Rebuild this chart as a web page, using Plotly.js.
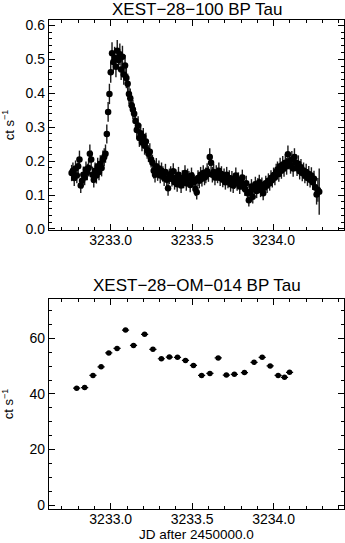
<!DOCTYPE html>
<html>
<head>
<meta charset="utf-8">
<script src="https://cdn.plot.ly/plotly-3.0.1.min.js"></script>
<style>
  html, body { margin: 0; padding: 0; background: #fff; }
  #chart { width: 345px; height: 543px; }
</style>
</head>
<body>
<div id="chart"></div>
<script>
// XMM light curves of BP Tau: X-ray (EPIC) on top, optical monitor below

// --- X-ray light curve (XEST-28-100) ---
const xrayTime = [
  3232.760, 3232.768, 3232.776, 3232.784, 3232.792, 3232.800, 3232.808, 3232.816, 3232.824, 3232.832,
  3232.840, 3232.848, 3232.856, 3232.864, 3232.872, 3232.880, 3232.888, 3232.896, 3232.904, 3232.912,
  3232.920, 3232.928, 3232.936, 3232.944, 3232.952, 3232.960, 3232.968, 3232.976, 3232.984, 3232.992,
  3233.000, 3233.008, 3233.016, 3233.024, 3233.032, 3233.040, 3233.048, 3233.056, 3233.064, 3233.072,
  3233.080, 3233.088, 3233.096, 3233.104, 3233.112, 3233.120, 3233.128, 3233.136, 3233.144, 3233.152,
  3233.160, 3233.168, 3233.176, 3233.184, 3233.192, 3233.200, 3233.208, 3233.216, 3233.224, 3233.232,
  3233.240, 3233.248, 3233.256, 3233.264, 3233.272, 3233.280, 3233.288, 3233.296, 3233.304, 3233.312,
  3233.320, 3233.328, 3233.336, 3233.344, 3233.352, 3233.360, 3233.368, 3233.376, 3233.384, 3233.392,
  3233.400, 3233.408, 3233.416, 3233.424, 3233.432, 3233.440, 3233.448, 3233.456, 3233.464, 3233.472,
  3233.480, 3233.488, 3233.496, 3233.504, 3233.512, 3233.520, 3233.528, 3233.536, 3233.544, 3233.552,
  3233.560, 3233.568, 3233.576, 3233.584, 3233.592, 3233.600, 3233.608, 3233.616, 3233.624, 3233.632,
  3233.640, 3233.648, 3233.656, 3233.664, 3233.672, 3233.680, 3233.688, 3233.696, 3233.704, 3233.712,
  3233.720, 3233.728, 3233.736, 3233.744, 3233.752, 3233.760, 3233.768, 3233.776, 3233.784, 3233.792,
  3233.800, 3233.808, 3233.816, 3233.824, 3233.832, 3233.840, 3233.848, 3233.856, 3233.864, 3233.872,
  3233.880, 3233.888, 3233.896, 3233.904, 3233.912, 3233.920, 3233.928, 3233.936, 3233.944, 3233.952,
  3233.960, 3233.968, 3233.976, 3233.984, 3233.992, 3234.000, 3234.008, 3234.016, 3234.024, 3234.032,
  3234.040, 3234.048, 3234.056, 3234.064, 3234.072, 3234.080, 3234.088, 3234.096, 3234.104, 3234.112,
  3234.120, 3234.128, 3234.136, 3234.144, 3234.152, 3234.160, 3234.168, 3234.176, 3234.184, 3234.192,
  3234.200, 3234.208, 3234.216, 3234.224, 3234.232, 3234.240, 3234.248, 3234.256, 3234.264, 3234.272,
  3234.280
];
const xrayRate = [
  0.165, 0.172, 0.150, 0.178, 0.158, 0.185, 0.205, 0.128, 0.142, 0.160,
  0.152, 0.175, 0.168, 0.180, 0.222, 0.205, 0.160, 0.145, 0.172, 0.158,
  0.185, 0.168, 0.192, 0.180, 0.205, 0.212, 0.222, 0.280, 0.345, 0.398,
  0.462, 0.518, 0.492, 0.505, 0.478, 0.525, 0.498, 0.515, 0.470, 0.508,
  0.455, 0.482, 0.445, 0.428, 0.398, 0.385, 0.365, 0.352, 0.340, 0.318,
  0.292, 0.305, 0.268, 0.282, 0.255, 0.272, 0.245, 0.258, 0.232, 0.222,
  0.228, 0.205, 0.195, 0.172, 0.160, 0.185, 0.165, 0.178, 0.158, 0.172,
  0.162, 0.150, 0.168, 0.145, 0.120, 0.155, 0.162, 0.148, 0.170, 0.138,
  0.152, 0.132, 0.160, 0.145, 0.128, 0.150, 0.142, 0.165, 0.135, 0.155,
  0.148, 0.130, 0.158, 0.145, 0.138, 0.118, 0.108, 0.150, 0.142, 0.160,
  0.148, 0.165, 0.152, 0.158, 0.170, 0.162, 0.212, 0.195, 0.160, 0.168,
  0.152, 0.165, 0.158, 0.172, 0.150, 0.162, 0.145, 0.155, 0.138, 0.160,
  0.142, 0.150, 0.132, 0.148, 0.128, 0.140, 0.158, 0.135, 0.145, 0.125,
  0.138, 0.152, 0.130, 0.118, 0.135, 0.105, 0.085, 0.110, 0.125, 0.095,
  0.118, 0.132, 0.112, 0.128, 0.138, 0.115, 0.130, 0.105, 0.122, 0.135,
  0.128, 0.142, 0.135, 0.150, 0.145, 0.158, 0.152, 0.168, 0.175, 0.162,
  0.185, 0.172, 0.190, 0.178, 0.195, 0.185, 0.220, 0.200, 0.188, 0.205,
  0.178, 0.212, 0.195, 0.180, 0.192, 0.170, 0.182, 0.165, 0.172, 0.158,
  0.168, 0.150, 0.162, 0.145, 0.158, 0.138, 0.148, 0.122, 0.102, 0.115,
  0.110
];
const xrayErr = [
  0.024, 0.024, 0.023, 0.024, 0.023, 0.025, 0.026, 0.022, 0.023, 0.024,
  0.023, 0.024, 0.024, 0.025, 0.027, 0.026, 0.024, 0.023, 0.024, 0.024,
  0.025, 0.024, 0.025, 0.025, 0.026, 0.026, 0.027, 0.028, 0.029, 0.030,
  0.031, 0.032, 0.031, 0.032, 0.031, 0.032, 0.031, 0.032, 0.031, 0.032,
  0.030, 0.031, 0.030, 0.030, 0.029, 0.029, 0.028, 0.028, 0.028, 0.027,
  0.027, 0.027, 0.026, 0.027, 0.026, 0.026, 0.026, 0.026, 0.025, 0.025,
  0.025, 0.024, 0.024, 0.023, 0.023, 0.024, 0.023, 0.024, 0.023, 0.024,
  0.023, 0.023, 0.024, 0.023, 0.022, 0.023, 0.023, 0.023, 0.024, 0.022,
  0.023, 0.022, 0.023, 0.023, 0.022, 0.023, 0.022, 0.023, 0.022, 0.023,
  0.023, 0.022, 0.023, 0.023, 0.022, 0.021, 0.021, 0.023, 0.022, 0.023,
  0.023, 0.023, 0.023, 0.023, 0.024, 0.023, 0.026, 0.025, 0.023, 0.024,
  0.023, 0.023, 0.023, 0.024, 0.023, 0.023, 0.022, 0.023, 0.022, 0.023,
  0.022, 0.023, 0.022, 0.023, 0.022, 0.022, 0.023, 0.022, 0.022, 0.022,
  0.022, 0.023, 0.022, 0.021, 0.022, 0.020, 0.019, 0.021, 0.022, 0.020,
  0.021, 0.022, 0.021, 0.022, 0.022, 0.021, 0.022, 0.020, 0.021, 0.022,
  0.022, 0.022, 0.022, 0.023, 0.023, 0.023, 0.023, 0.024, 0.024, 0.023,
  0.025, 0.024, 0.025, 0.024, 0.025, 0.025, 0.026, 0.025, 0.025, 0.025,
  0.024, 0.026, 0.025, 0.024, 0.025, 0.024, 0.024, 0.024, 0.024, 0.023,
  0.024, 0.023, 0.024, 0.023, 0.024, 0.023, 0.024, 0.026, 0.030, 0.035,
  0.068
];

// --- Optical monitor light curve (XEST-28-OM-014) ---
const omTime = [
  3232.791, 3232.840, 3232.891, 3232.941, 3232.988, 3233.039, 3233.091, 3233.140, 3233.208,
  3233.259, 3233.311, 3233.360, 3233.410, 3233.459, 3233.508, 3233.558, 3233.609, 3233.660,
  3233.710, 3233.759, 3233.821, 3233.880, 3233.930, 3233.979, 3234.028, 3234.067, 3234.098
];
const omRate = [
  42.1, 42.3, 46.7, 49.8, 54.8, 56.4, 63.0, 57.5, 61.5,
  56.1, 52.7, 53.3, 53.2, 52.1, 50.3, 46.7, 47.4, 53.0,
  46.8, 47.1, 47.7, 51.4, 53.2, 50.1, 46.7, 46.0, 47.8
];
const omRateErr = [
  0.5, 0.5, 0.5, 0.5, 0.5, 0.5, 0.6, 0.5, 0.6,
  0.5, 0.5, 0.5, 0.5, 0.5, 0.5, 0.5, 0.5, 0.5,
  0.5, 0.5, 0.5, 0.5, 0.5, 0.5, 0.5, 0.5, 0.5
];
const omHalfBin = 0.022;

const titleTop = 'XEST\u221228\u2212100 BP Tau';
const titleBottom = 'XEST\u221228\u2212OM\u2212014 BP Tau';
const rateLabel = 'ct s<sup>\u22121</sup>';
const timeLabel = 'JD after 2450000.0';

const FONT = 'Liberation Sans, Arial, Helvetica, sans-serif';

function frameAxis(extra) {
    return Object.assign({
        showline: true,
        linecolor: '#000',
        linewidth: 1.2,
        mirror: 'allticks',
        ticks: 'inside',
        ticklen: 6,
        tickwidth: 1,
        tickcolor: '#000',
        showgrid: false,
        zeroline: false,
        tickfont: { family: FONT, size: 14, color: '#000' }
    }, extra);
}

const xrayTrace = {
    x: xrayTime,
    y: xrayRate,
    xaxis: 'x',
    yaxis: 'y',
    type: 'scatter',
    mode: 'markers',
    marker: { color: '#000', size: 6.5 },
    error_y: { type: 'data', array: xrayErr, color: '#1a1a1a', thickness: 1.4, width: 0 },
    hoverinfo: 'x+y'
};

const omTrace = {
    x: omTime,
    y: omRate,
    xaxis: 'x2',
    yaxis: 'y2',
    type: 'scatter',
    mode: 'markers',
    marker: { color: '#000', size: 5.5 },
    error_x: { type: 'constant', value: omHalfBin, color: '#000', thickness: 1.2, width: 0 },
    error_y: { type: 'data', array: omRateErr, color: '#000', thickness: 1, width: 0 },
    hoverinfo: 'x+y'
};

const xRange = [3232.621, 3234.432];

const layout = {
    width: 345,
    height: 543,
    margin: { t: 0, r: 0, b: 0, l: 0 },
    paper_bgcolor: '#fff',
    plot_bgcolor: '#fff',
    showlegend: false,
    font: { family: FONT, color: '#000' },
    xaxis: frameAxis({
        domain: [0.142, 0.997],
        anchor: 'y',
        range: xRange,
        tick0: 3233,
        dtick: 0.5,
        tickformat: '.1f',
        ticklabelstandoff: -3,
        minor: { ticks: 'inside', ticklen: 3, dtick: 0.1, tickcolor: '#000' }
    }),
    yaxis: frameAxis({
        domain: [0.5764, 0.9632],
        anchor: 'x',
        range: [-0.003, 0.616],
        tick0: 0,
        dtick: 0.1,
        tickformat: '.1f',
        minor: { ticks: 'inside', ticklen: 3, dtick: 0.02, tickcolor: '#000' },
        title: { text: rateLabel, font: { family: FONT, size: 13 }, standoff: 8 }
    }),
    xaxis2: frameAxis({
        domain: [0.142, 0.997],
        anchor: 'y2',
        range: xRange,
        tick0: 3233,
        dtick: 0.5,
        tickformat: '.1f',
        ticklabelstandoff: -3,
        minor: { ticks: 'inside', ticklen: 3, dtick: 0.1, tickcolor: '#000' }
    }),
    yaxis2: frameAxis({
        domain: [0.0632, 0.4488],
        anchor: 'x2',
        range: [-1.3, 74.1],
        tick0: 0,
        dtick: 20,
        minor: { ticks: 'inside', ticklen: 3, dtick: 5, tickcolor: '#000' },
        title: { text: rateLabel, font: { family: FONT, size: 13 }, standoff: 18 }
    }),
    annotations: [
        {
            text: titleTop, xref: 'paper', yref: 'paper',
            x: 0.57, y: 1 - 10 / 543, xanchor: 'center', yanchor: 'middle',
            showarrow: false, font: { family: FONT, size: 17, color: '#000' }
        },
        {
            text: titleBottom, xref: 'paper', yref: 'paper',
            x: 0.57, y: 1 - 285 / 543, xanchor: 'center', yanchor: 'middle',
            showarrow: false, font: { family: FONT, size: 17, color: '#000' }
        },
        {
            text: timeLabel, xref: 'paper', yref: 'paper',
            x: 0.57, y: 1 - 534 / 543, xanchor: 'center', yanchor: 'middle',
            showarrow: false, font: { family: FONT, size: 13.5, color: '#000' }
        }
    ]
};

Plotly.newPlot('chart', [xrayTrace, omTrace], layout, { displayModeBar: false, staticPlot: true });
</script>
</body>
</html>
